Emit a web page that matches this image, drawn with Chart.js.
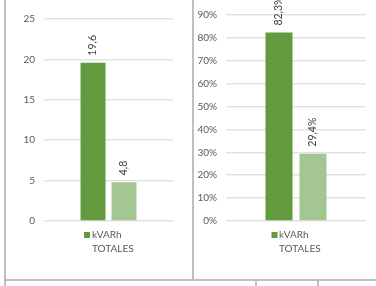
<!DOCTYPE html>
<html>
<head>
<meta charset="utf-8">
<script src="https://cdn.jsdelivr.net/npm/chart.js@4.4.1/dist/chart.umd.min.js"></script>
<style>
    html, body { margin: 0; padding: 0; background: #fff; }
    body { width: 376px; height: 286px; position: relative; overflow: hidden; }
    .line { position: absolute; background: #bfbfbf; }
    .box { position: absolute; top: 0; height: 279px; }
</style>
</head>
<body>
<div class="line" style="left:4px;top:0;width:2px;height:286px"></div>
<div class="line" style="left:192px;top:0;width:2px;height:280px"></div>
<div class="line" style="left:4px;top:279px;width:372px;height:2px"></div>
<div class="line" style="left:255px;top:281px;width:2px;height:5px"></div>
<div class="line" style="left:317px;top:281px;width:2px;height:5px"></div>

<div class="box" style="left:7px;width:186px"><canvas id="kvarh"></canvas></div>
<div class="box" style="left:195px;width:181px"><canvas id="porcentaje"></canvas></div>

<script>
const categorias = ['kVARh TOTALES'];
const leyenda = ['kVARh', 'TOTALES'];
const kvarhValores = [19.6, 4.8];
const porcentajeValores = [82.3, 29.4];
const kvarhTicks = [0, 5, 10, 15, 20, 25];
const porcentajeTicks = [0, 10, 20, 30, 40, 50, 60, 70, 80, 90];

const verdeOscuro = '#629b3e';
const verdeClaro = '#a4c690';
const fuente = "'Lato', 'Liberation Sans', sans-serif";
const gris = '#595959';

function formato(v, sufijo) {
    return v.toFixed(1).replace('.', ',') + sufijo;
}

// etiquetas de valor giradas encima de cada barra
const etiquetasPlugin = {
    id: 'etiquetas',
    afterDatasetsDraw(chart, args, opts) {
        const ctx = chart.ctx;
        ctx.save();
        ctx.font = '10.5px ' + fuente;
        ctx.fillStyle = '#404040';
        ctx.textAlign = 'left';
        ctx.textBaseline = 'middle';
        chart.data.datasets.forEach((ds, i) => {
            chart.getDatasetMeta(i).data.forEach((bar, j) => {
                ctx.save();
                ctx.translate(bar.x, bar.y - 7);
                ctx.rotate(-Math.PI / 2);
                ctx.fillText(formato(ds.data[j], opts.sufijo), 0, 0);
                ctx.restore();
            });
        });
        ctx.restore();
    }
};

// leyenda de dos líneas debajo del gráfico
const leyendaPlugin = {
    id: 'leyendaTexto',
    afterDraw(chart, args, opts) {
        const ctx = chart.ctx;
        const area = chart.chartArea;
        const cx = (area.left + area.right) / 2;
        const x0 = cx - 24.5;
        ctx.save();
        ctx.fillStyle = verdeOscuro;
        ctx.fillRect(x0, area.bottom + 11, 6, 6);
        ctx.font = '10px ' + fuente;
        ctx.fillStyle = gris;
        ctx.textAlign = 'left';
        ctx.textBaseline = 'middle';
        ctx.fillText(leyenda[0], x0 + opts.gap, area.bottom + 14);
        ctx.fillText(leyenda[1], x0 + opts.gap, area.bottom + 28);
        ctx.restore();
    }
};

function crearGrafico(id, valores, ticks, sufijo, ejeAncho, padding, cp, bp, gap) {
    const max = ticks[ticks.length - 1];
    return new Chart(document.getElementById(id), {
        type: 'bar',
        data: {
            labels: categorias,
            datasets: [
                { data: [valores[0]], backgroundColor: verdeOscuro, categoryPercentage: cp, barPercentage: bp },
                { data: [valores[1]], backgroundColor: verdeClaro, categoryPercentage: cp, barPercentage: bp }
            ]
        },
        options: {
            responsive: true,
            maintainAspectRatio: false,
            animation: false,
            layout: { padding: padding },
            scales: {
                x: { display: false },
                y: {
                    min: 0,
                    max: max,
                    afterFit(scale) { scale.width = ejeAncho; },
                    afterBuildTicks(scale) { scale.ticks = ticks.map(v => ({ value: v })); },
                    border: { display: false },
                    grid: { color: '#e3e3e3', lineWidth: 1.5, drawTicks: false },
                    ticks: {
                        padding: 9,
                        color: gris,
                        font: { family: fuente, size: 10 },
                        callback: v => v + sufijo
                    }
                }
            },
            plugins: {
                legend: { display: false },
                tooltip: { enabled: false },
                etiquetas: { sufijo: sufijo },
                leyendaTexto: { gap: gap }
            }
        },
        plugins: [etiquetasPlugin, leyendaPlugin]
    });
}

crearGrafico('kvarh', kvarhValores, kvarhTicks, '', 37,
    { top: 19, right: 20, bottom: 58, left: 0 }, 0.48, 0.806, 8);
crearGrafico('porcentaje', porcentajeValores, porcentajeTicks, '%', 31,
    { top: 5, right: 10, bottom: 58, left: 0 }, 0.486, 0.794, 7.5);
</script>
</body>
</html>
